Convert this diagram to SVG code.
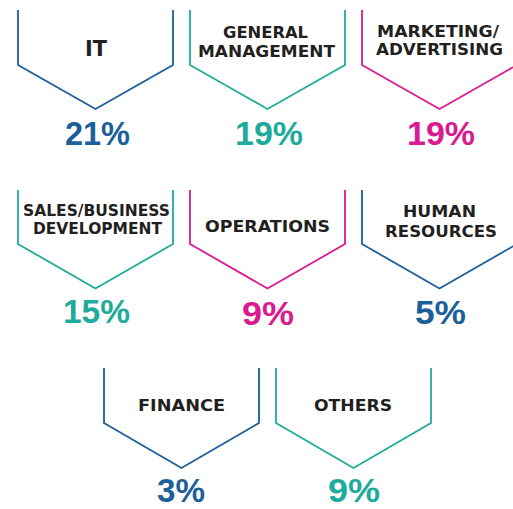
<svg xmlns="http://www.w3.org/2000/svg" width="513" height="509" viewBox="0 0 513 509">
<style>
.sh{fill:none;stroke-width:1.8;stroke-linejoin:miter}
.b{stroke:#1d5f98}.t{stroke:#1fab9c}.m{stroke:#d91b8f}
.lb{font-family:"DejaVu Sans",sans-serif;font-weight:bold;font-size:16.5px;fill:#231f20;text-anchor:middle}
.sm{font-size:15.5px}
.pc{font-family:"Liberation Sans",Arial,sans-serif;font-weight:bold;font-size:33px;text-anchor:middle}
.pb{fill:#1d5f98}.pt{fill:#1fab9c}.pm{fill:#d91b8f}
</style>
<rect width="513" height="509" fill="#fff"/>
<g id="it">
<polyline class="sh b" points="18,10 18,65 95.5,109 173,65 173,10"/>
<text class="lb" x="96" y="56" style="font-size:22px" textLength="22" lengthAdjust="spacingAndGlyphs">IT</text>
<text class="pc pb" x="97.5" y="145" textLength="65" lengthAdjust="spacingAndGlyphs">21%</text>
</g>
<g id="general-management">
<polyline class="sh t" points="190,10 190,65 267.5,109 345,65 345,10"/>
<text class="lb" x="265.5" y="38" textLength="85" lengthAdjust="spacingAndGlyphs">GENERAL</text>
<text class="lb" x="266.5" y="57" textLength="137" lengthAdjust="spacingAndGlyphs">MANAGEMENT</text>
<text class="pc pt" x="269" y="145" textLength="68" lengthAdjust="spacingAndGlyphs">19%</text>
</g>
<g id="marketing">
<polyline class="sh m" points="362,10 362,65 439.5,109 517,65 517,10"/>
<text class="lb sm" x="438" y="37" textLength="122" lengthAdjust="spacingAndGlyphs">MARKETING/</text>
<text class="lb sm" x="439.5" y="55" textLength="127" lengthAdjust="spacingAndGlyphs">ADVERTISING</text>
<text class="pc pm" x="441" y="145" textLength="68" lengthAdjust="spacingAndGlyphs">19%</text>
</g>
<g id="sales">
<polyline class="sh t" points="18,190 18,244 95.5,288.5 173,244 173,190"/>
<text class="lb sm" x="96.5" y="215.5" textLength="147" lengthAdjust="spacingAndGlyphs">SALES/BUSINESS</text>
<text class="lb sm" x="97.5" y="233.5" textLength="129" lengthAdjust="spacingAndGlyphs">DEVELOPMENT</text>
<text class="pc pt" x="96.5" y="323" textLength="67" lengthAdjust="spacingAndGlyphs">15%</text>
</g>
<g id="operations">
<polyline class="sh m" points="190,190 190,244 267.5,288.5 345,244 345,190"/>
<text class="lb" x="267.5" y="232" textLength="125" lengthAdjust="spacingAndGlyphs">OPERATIONS</text>
<text class="pc pm" x="268" y="325" textLength="52" lengthAdjust="spacingAndGlyphs">9%</text>
</g>
<g id="human-resources">
<polyline class="sh b" points="362,190 362,244 439.5,288.5 517,244 517,190"/>
<text class="lb" x="439.5" y="217" textLength="73" lengthAdjust="spacingAndGlyphs">HUMAN</text>
<text class="lb" x="441" y="237" textLength="112" lengthAdjust="spacingAndGlyphs">RESOURCES</text>
<text class="pc pb" x="440.5" y="324" textLength="51" lengthAdjust="spacingAndGlyphs">5%</text>
</g>
<g id="finance">
<polyline class="sh b" points="104,368 104,423 181.5,468 259,423 259,368"/>
<text class="lb" x="181.5" y="411" textLength="87" lengthAdjust="spacingAndGlyphs">FINANCE</text>
<text class="pc pb" x="181" y="502" textLength="48" lengthAdjust="spacingAndGlyphs">3%</text>
</g>
<g id="others">
<polyline class="sh t" points="276,368 276,423 353.5,468 431,423 431,368"/>
<text class="lb" x="353" y="411" textLength="78" lengthAdjust="spacingAndGlyphs">OTHERS</text>
<text class="pc pt" x="354" y="502" textLength="52" lengthAdjust="spacingAndGlyphs">9%</text>
</g>
<g id="connectors"></g>
</svg>
